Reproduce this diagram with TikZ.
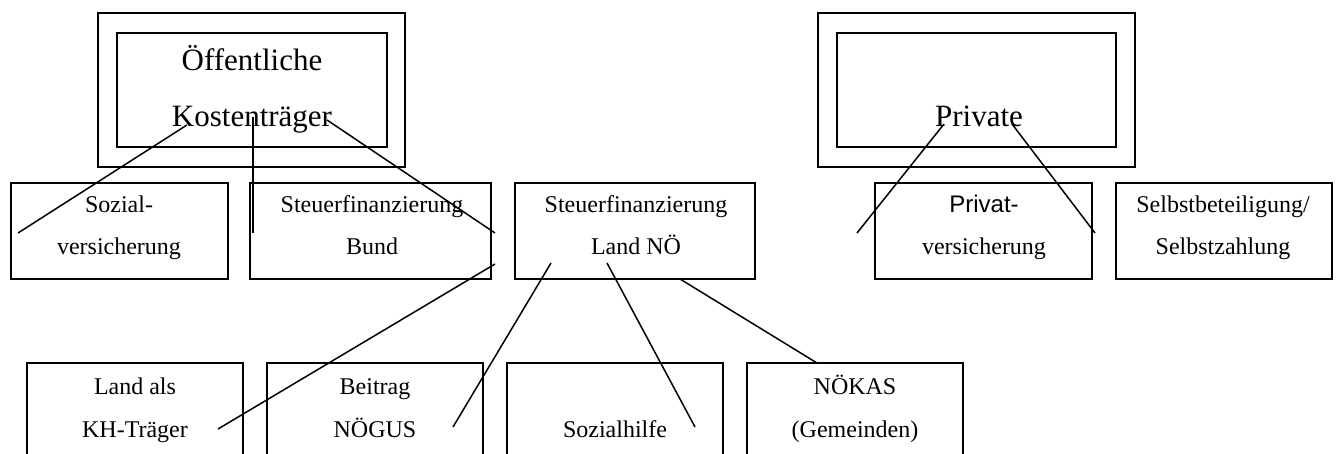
\documentclass[tikz,border=0pt]{standalone}
\usepackage{fontspec}
\setmainfont{Liberation Serif}
\newfontfamily\arialfont{Liberation Sans}
\begin{document}
\begin{tikzpicture}[x=1pt,y=-1pt,
  box/.style={draw=black,line width=1.8pt},
  link/.style={draw=black,line width=1.5pt},
  lbl/.style={anchor=base,inner sep=0pt,font=\fontsize{24}{28}\selectfont},
  head/.style={anchor=base,inner sep=0pt,font=\fontsize{31}{36}\selectfont}]
\clip (0,0) rectangle (1338,454);
\fill[white] (0,0) rectangle (1338,454);

% top level: the two kinds of payers (double frames)
\draw[box] (98,13) rectangle (405,167);
\draw[box] (117,33) rectangle (387,147);
\draw[box] (818,13) rectangle (1135,167);
\draw[box] (837,33) rectangle (1116,147);
\node[head] (oe1) at (252,71) {Öffentliche};
\node[head] (oe2) at (252,127) {Kostenträger};
\node[head] (pr) at (979,127) {Private};

% second level
\draw[box] (11,183) rectangle (228,279);
\draw[box] (250,183) rectangle (491,279);
\draw[box] (515,183) rectangle (755,279);
\draw[box] (875,183) rectangle (1092,279);
\draw[box] (1116,183) rectangle (1332,279);
\node[lbl] (sv1) at (119,213) {Sozial-};
\node[lbl] (sv2) at (119,255) {versicherung};
\node[lbl] (sb1) at (372,213) {Steuerfinanzierung};
\node[lbl] (sb2) at (372,255) {Bund};
\node[lbl] (sl1) at (636,213) {Steuerfinanzierung};
\node[lbl] (sl2) at (636,255) {Land NÖ};
\node[lbl,font=\arialfont\fontsize{24}{28}\selectfont] (pv1) at (984,213) {Privat-};
\node[lbl] (pv2) at (984,255) {versicherung};
\node[lbl] (sz1) at (1223,213) {Selbstbeteiligung/};
\node[lbl] (sz2) at (1223,255) {Selbstzahlung};

% third level (below Land NÖ)
\draw[box] (27,363) rectangle (243,480);
\draw[box] (267,363) rectangle (483,480);
\draw[box] (507,363) rectangle (723,480);
\draw[box] (747,363) rectangle (963,480);
\node[lbl] (kh1) at (135,394) {Land als};
\node[lbl] (kh2) at (135,437) {KH-Träger};
\node[lbl] (ng1) at (375,394) {Beitrag};
\node[lbl] (ng2) at (375,437) {NÖGUS};
\node[lbl] (sh) at (615,437) {Sozialhilfe};
\node[lbl] (nk1) at (855,394) {NÖKAS};
\node[lbl] (nk2) at (855,437) {(Gemeinden)};

% connector end points
\coordinate (c1a) at (187,125);  \coordinate (c1b) at (18,233);
\coordinate (c2a) at (253,117);  \coordinate (c2b) at (253,233);
\coordinate (c3a) at (327,120);  \coordinate (c3b) at (495,233);
\coordinate (c4a) at (495,264);  \coordinate (c4b) at (218,429);
\coordinate (c5a) at (551,263);  \coordinate (c5b) at (453,427);
\coordinate (c6a) at (607,263);  \coordinate (c6b) at (695,427);
\coordinate (c7a) at (680,279);  \coordinate (c7b) at (817,363);
\coordinate (c8a) at (944,124);  \coordinate (c8b) at (857,233);
\coordinate (c9a) at (1012,124); \coordinate (c9b) at (1095,233);

\draw[link] (c1a) -- (c1b);
\draw[link] (c2a) -- (c2b);
\draw[link] (c3a) -- (c3b);
\draw[link] (c4a) -- (c4b);
\draw[link] (c5a) -- (c5b);
\draw[link] (c6a) -- (c6b);
\draw[link] (c7a) -- (c7b);
\draw[link] (c8a) -- (c8b);
\draw[link] (c9a) -- (c9b);
\end{tikzpicture}
\end{document}
